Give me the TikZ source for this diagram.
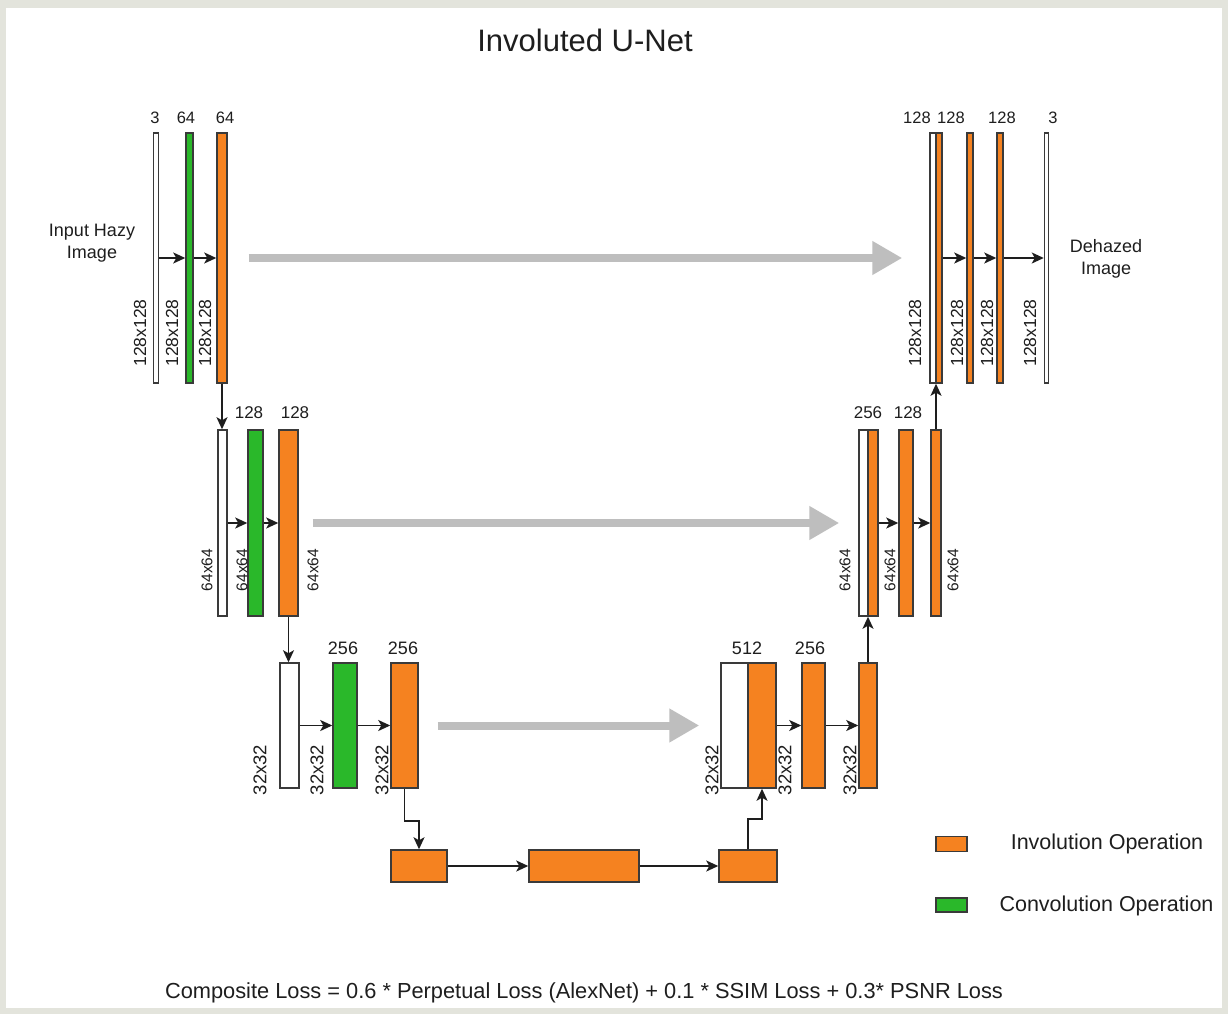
\documentclass[tikz,border=0pt]{standalone}
\usepackage{fontspec}
\setmainfont{Liberation Sans}
\usetikzlibrary{arrows.meta,positioning}
\definecolor{invo}{RGB}{245,130,32}
\definecolor{conv}{RGB}{42,184,42}
\definecolor{edge}{RGB}{58,58,58}
\definecolor{skipgrey}{RGB}{190,190,190}
\definecolor{framegrey}{RGB}{227,228,220}
\definecolor{ink}{RGB}{30,30,30}
\newcommand{\fsize}[1]{\fontsize{#1}{#1}\selectfont}
\begin{document}
\begin{tikzpicture}[x=1pt,y=-1pt, text=ink,
    >={Stealth[length=12pt,width=11pt,inset=3pt]},
    bar/.style={draw=edge, line width=1.5pt, inner sep=0pt},
    conn/.style={->, line width=1.6pt, draw=ink},
    skip/.style={-{Triangle[length=30pt,width=32pt]}, line width=8pt, draw=skipgrey},
    num/.style={inner sep=0pt, font=\fsize{#1}},
    dim/.style={inner sep=0pt, rotate=90, font=\fsize{#1}}]
    \fill[framegrey] (0,0) rectangle (1228,1014);
    \fill[white] (6,8) rectangle (1222,1008);
    \node[num=31] (title) at (585,40) {Involuted U-Net};

    % bars, one loop per level
    \foreach \n/\x/\w/\c in {in1/156/5/white, cv1/189.5/7/conv, iv1/222/10/invo, up1w/933/6/white, up1/939/6/invo, r1b/970/6/invo, r1c/1000/6/invo, out1/1046.5/4/white}
      { \node[bar, fill=\c, minimum width=\w, minimum height=250] (\n) at (\x,258) {}; }
    \foreach \n/\x/\w/\c in {in2/222.5/9/white, cv2/255.5/15/conv, iv2/288.5/19/invo, up2w/863.5/9/white, up2/873/10/invo, r2b/906/14/invo, r2c/936/10/invo}
      { \node[bar, fill=\c, minimum width=\w, minimum height=186] (\n) at (\x,523) {}; }
    \foreach \n/\x/\w/\c in {in3/289.5/19/white, cv3/345/24/conv, iv3/404.5/27/invo, up3w/734.5/27/white, up3/762/28/invo, r3b/813.5/23/invo, r3c/868/18/invo}
      { \node[bar, fill=\c, minimum width=\w, minimum height=125] (\n) at (\x,725.5) {}; }
    \foreach \n/\x/\w in {b1/419/56, b2/584/110, b3/748/58}
      { \node[bar, fill=invo, minimum width=\w, minimum height=32] (\n) at (\x,866) {}; }

    \foreach \a/\b in {in1/cv1, cv1/iv1, up1/r1b, r1b/r1c, r1c/out1, in2/cv2, cv2/iv2, up2/r2b, r2b/r2c, in3/cv3, cv3/iv3, up3/r3b, r3b/r3c, b1/b2, b2/b3}
      { \draw[conn] (\a) -- (\b); }
    \draw[conn] (iv1.south) -- (iv1.south |- in2.north);
    \draw[conn] (iv2.south) -- (iv2.south |- in3.north);
    \draw[conn] (iv3.south) -- ++(0,32) -| (b1.north);
    \draw[conn] (b3.north) -- ++(0,-30) -| (up3.south);
    \draw[conn] (r3c.north) -- (r3c.north |- up2.south);
    \draw[conn] (r2c.north) -- (r2c.north |- up1.south);

    \draw[skip, shorten <=21pt, shorten >=27pt] (iv1) -- (up1w);
    \draw[skip, shorten <=14pt, shorten >=19pt] (iv2) -- (up2w);
    \draw[skip, shorten <=19pt, shorten >=21pt] (iv3) -- (up3w);

    % channel counts and sizes
    \foreach \t/\x/\y/\s in {3/155/118/16.5, 64/186/118/16.5, 64/225/118/16.5, 128/917/118/16.5, 128/951/118/16.5, 128/1002/118/16.5, 3/1053/118/16.5, 128/249/413/17, 128/295/413/17, 256/868/413/17, 128/908/413/17, 256/343/648/18, 256/403/648/18, 512/747/648/18, 256/810/648/18}
      { \node[num=\s] (c\x) at (\x,\y) {\t}; }
    \foreach \x in {140,172,205,915,957,987,1030}
      { \node[dim=17.5] (s\x) at (\x,333) {128x128}; }
    \foreach \x in {207,242,313,845,890,953}
      { \node[dim=15.5] (s\x) at (\x,570) {64x64}; }
    \foreach \x in {260,317,382,712,785,850}
      { \node[dim=18.5] (s\x) at (\x,770) {32x32}; }

    \node[align=center, font=\fontsize{18}{22}\selectfont] (input) at (92,243) {Input Hazy\\Image};
    \node[align=center, font=\fontsize{18}{22}\selectfont] (output) at (1106,259) {Dehazed\\Image};

    \node[bar, fill=invo, minimum width=31, minimum height=15] (legI) at (951.5,844) {};
    \node[num=21.5] (txtI) at (1107,844) {Involution Operation};
    \node[bar, fill=conv, minimum width=31, minimum height=14] (legC) at (951.5,905) {};
    \node[num=21.5] (txtC) at (1106.5,906) {Convolution Operation};

    \node[num=21.8] (loss) at (584,993) {Composite Loss = 0.6 * Perpetual Loss (AlexNet) + 0.1 * SSIM Loss + 0.3* PSNR Loss};
\end{tikzpicture}
\end{document}
